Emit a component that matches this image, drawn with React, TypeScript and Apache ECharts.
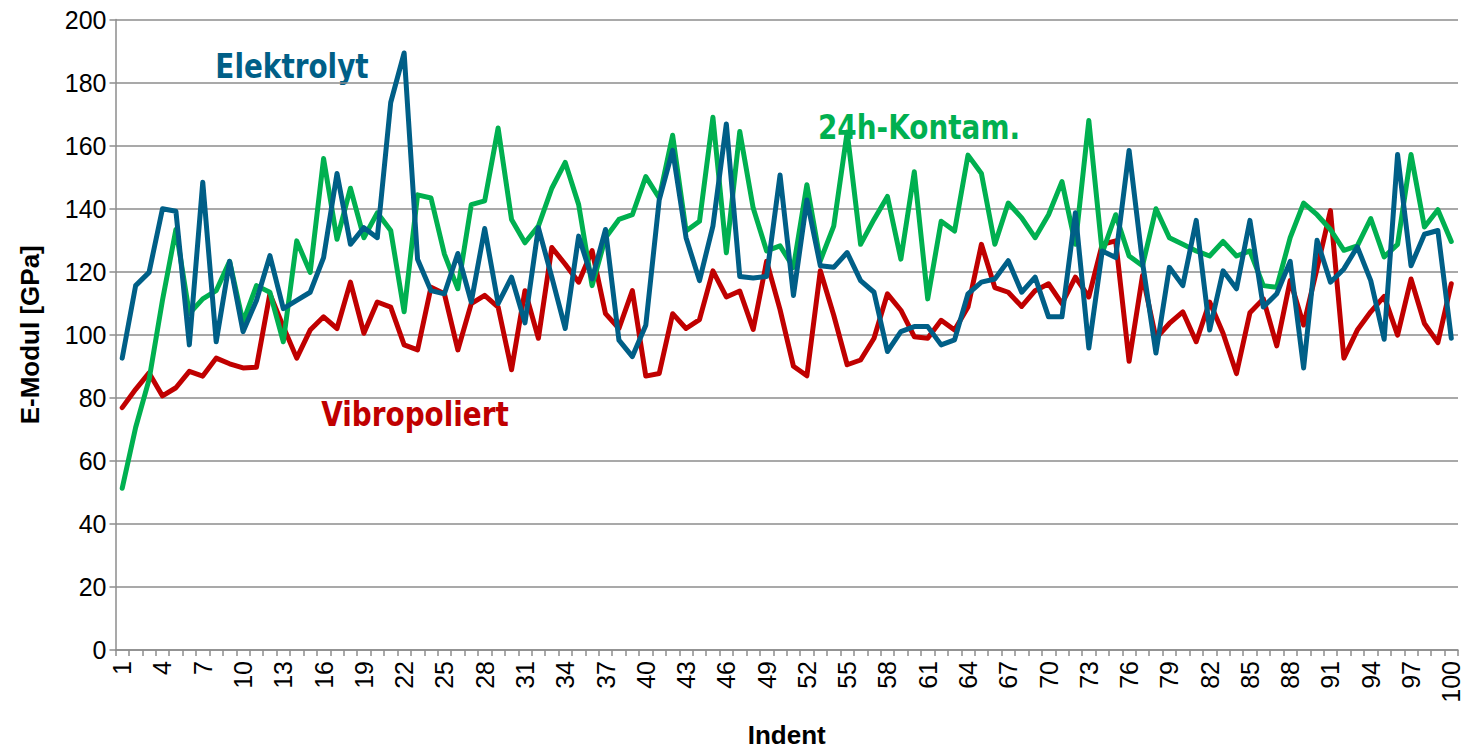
import React, { useEffect, useRef } from "react";
import * as echarts from "echarts";

const indents: string[] = Array.from({ length: 100 }, (_, i) => String(i + 1));

const vibropoliert: number[] = [
  76.9, 82.7, 87.9, 80.6, 83.2, 88.4, 86.9, 92.6, 90.8, 89.5,
  89.7, 113, 102.6, 92.6, 101.5, 105.7, 102, 116.7, 100.5, 110.4,
  108.8, 96.8, 95.2, 115.1, 113, 95.2, 109.9, 112.5, 108.8, 88.9,
  114, 98.9, 127.7, 122.4, 116.7, 126.7, 106.7, 102, 114, 86.9,
  87.7, 106.7, 102, 104.8, 120.3, 112, 113.9, 101.7, 123.3, 108,
  90, 87, 120.3, 106.2, 90.5, 92, 98.9, 113, 107.8, 99.4,
  98.9, 104.6, 101.5, 108.8, 128.7, 115, 113.5, 109, 114, 116.2,
  109.9, 118.3, 112, 128.7, 129.8, 91.6, 118.8, 98.9, 103.6, 107.3,
  97.8, 110.4, 100.5, 87.7, 107, 111.4, 96.5, 117.2, 103.1, 121,
  139.4, 92.6, 101.5, 107.3, 112.2, 99.9, 117.7, 103.6, 97.5, 116.2,
];

const kontam24h: number[] = [
  51.3, 70.6, 85.8, 111, 133.4, 106.7, 111.4, 114, 123.3, 104,
  115.6, 113.5, 97.8, 129.8, 119.8, 155.9, 130.3, 146.5, 130.8, 138.7,
  133.1, 107.3, 144.4, 143.4, 125.6, 114.6, 141.3, 142.5, 165.6, 136.6,
  129.2, 134.5, 146.5, 154.7, 141.3, 115.6, 130.8, 136.6, 138.1, 150.2,
  143.4, 163.3, 132.9, 136, 169, 126, 164.5, 140.2, 126.6, 128.2,
  121.4, 147.6, 123.5, 134.5, 164.3, 128.7, 136.6, 143.9, 124, 151.7,
  111.4, 136, 132.9, 157, 151.2, 128.7, 141.8, 137.1, 130.8, 138.1,
  148.6, 128.7, 168, 126, 138.1, 125, 121.9, 140, 130.8, 128.7,
  126.6, 125, 129.6, 125, 126.6, 115.6, 115.1, 130.8, 141.8, 138.1,
  133.4, 126.8, 128.2, 136.9, 124.7, 128.7, 157.2, 134.2, 139.7, 129.6,
];

const elektrolyt: number[] = [
  92.6, 115.6, 119.8, 140, 139.2, 96.8, 148.4, 97.8, 123.3, 101,
  110.9, 125.1, 108.3, 110.9, 113.5, 124.5, 151.2, 128.7, 134, 130.8,
  173.7, 189.4, 124, 114, 113, 125.8, 110.4, 133.7, 109.9, 118.3,
  103.8, 134, 118.3, 102, 131.3, 117.7, 133.4, 98.3, 93.1, 103,
  142.8, 158.5, 130.8, 117.2, 134.5, 166.9, 118.5, 118, 118.5, 150.7,
  112.5, 142.8, 121.9, 121.4, 126.1, 117.2, 113.5, 94.7, 101, 102.6,
  102.6, 96.8, 98.4, 113, 116.7, 117.7, 123.5, 113.5, 118.3, 105.7,
  105.7, 138.7, 95.8, 126.6, 124.5, 158.5, 123, 94.2, 121.4, 115.6,
  136.3, 101.5, 120.3, 114.6, 136.3, 108.8, 113, 123.3, 89.5, 130,
  116.7, 120.9, 127.9, 117.2, 98.6, 157.2, 121.9, 131.9, 133.1, 98.9,
];

const seriesNames = ["Vibropoliert", "24h-Kontam.", "Elektrolyt"];
const seriesColors = ["#C00000", "#00B050", "#005F87"];

export default function App() {
  const ref = useRef<HTMLDivElement>(null);

  useEffect(() => {
    if (!ref.current) return;
    const chart = echarts.init(ref.current, null, { renderer: "svg" });
    const axisGray = "#8c8c8c";
    const labelFont = "'Liberation Sans', Arial, sans-serif";
    const tagFont = "'DejaVu Sans', sans-serif";
    const datasets = [vibropoliert, kontam24h, elektrolyt];

    const tag = (text: string, x: number, y: number, color: string) => ({
      type: "text",
      x,
      y,
      scaleX: 0.82,
      scaleY: 1,
      style: {
        text,
        fill: color,
        font: `bold 34px ${tagFont}`,
        textAlign: "center",
        textVerticalAlign: "middle",
      },
    });

    chart.setOption({
      animation: false,
      backgroundColor: "#ffffff",
      grid: { left: 115.5, right: 10, top: 19.6, bottom: 96.4, containLabel: false },
      xAxis: {
        type: "category",
        data: indents,
        boundaryGap: true,
        name: "Indent",
        nameLocation: "middle",
        nameGap: 72,
        nameTextStyle: { fontFamily: labelFont, fontWeight: "bold", fontSize: 26, color: "#000" },
        axisLine: { show: true, lineStyle: { color: axisGray, width: 1.5 } },
        axisTick: { show: true, interval: 0, length: 6, lineStyle: { color: axisGray, width: 1.5 } },
        axisLabel: {
          interval: 2,
          rotate: 90,
          margin: 11,
          fontFamily: labelFont,
          fontSize: 25,
          color: "#000",
        },
        splitLine: { show: false },
      },
      yAxis: {
        type: "value",
        min: 0,
        max: 200,
        interval: 20,
        name: "E-Modul [GPa]",
        nameLocation: "middle",
        nameGap: 73,
        nameTextStyle: { fontFamily: labelFont, fontWeight: "bold", fontSize: 26, color: "#000" },
        axisLine: { show: true, lineStyle: { color: axisGray, width: 1.5 } },
        axisTick: { show: true, length: 6, lineStyle: { color: axisGray, width: 1.5 } },
        axisLabel: { margin: 9, fontFamily: labelFont, fontSize: 25, color: "#000" },
        splitLine: { show: true, lineStyle: { color: axisGray, width: 1.5 } },
      },
      series: datasets.map((d, i) => ({
        name: seriesNames[i],
        type: "line",
        data: d,
        showSymbol: false,
        symbol: "none",
        lineStyle: { color: seriesColors[i], width: 5, join: "round", cap: "round" },
        itemStyle: { color: seriesColors[i] },
        z: 2 + i,
      })),
      graphic: [
        tag("Elektrolyt", 292, 66, seriesColors[2]),
        tag("24h-Kontam.", 919, 127, seriesColors[1]),
        tag("Vibropoliert", 415, 414, seriesColors[0]),
      ],
    });

    return () => {
      chart.dispose();
    };
  }, []);

  return (
    <div
      ref={ref}
      style={{ position: "fixed", left: 0, top: 0, width: 1468, height: 753, background: "#fff" }}
    />
  );
}
